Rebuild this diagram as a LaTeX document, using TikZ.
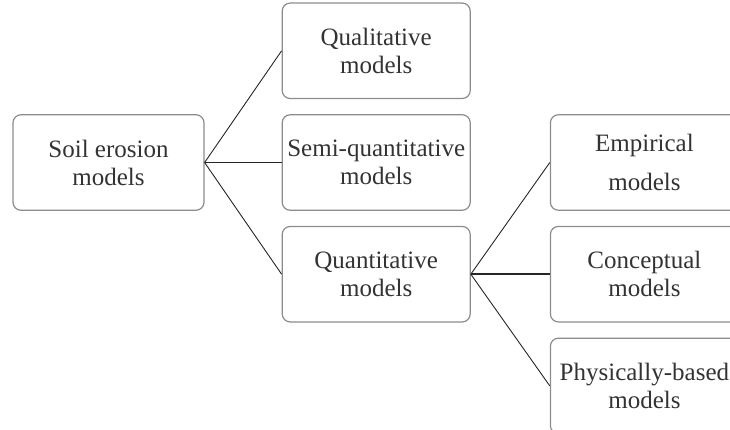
\documentclass[tikz,border=0pt]{standalone}
\usepackage{fontspec}
\setmainfont{Liberation Serif}
\usepackage{tikz}
\usetikzlibrary{positioning}
\definecolor{boxgray}{HTML}{8C8C8C}
\definecolor{linedark}{HTML}{262626}
\definecolor{textdark}{HTML}{333333}

\tikzset{
  modelbox/.style={draw=boxgray,line width=1.2pt,rounded corners=8pt,
    minimum width=188pt,minimum height=95.5pt,inner sep=0pt,align=center,
    text=textdark,font=\fontsize{25}{28}\selectfont},
  link/.style={draw=linedark,line width=0.9pt}
}

\begin{document}
\begin{tikzpicture}[x=1pt,y=1pt]
        \useasboundingbox (0,0) rectangle (730,-430);
        % left column
        \node[modelbox,minimum width=191pt] (soil) at (108.5,-162.5) {Soil erosion\\models};
        % middle column
        \node[modelbox,right=77pt of soil] (semi) {Semi-quantitative\\models};
        \node[modelbox,above=15pt of semi] (qual) {Qualitative\\models};
        \node[modelbox,below=15pt of semi] (quant) {Quantitative\\models};
        % right column
        \node[modelbox,right=79pt of semi] (emp) {Empirical\\[11pt]models};
        \node[modelbox,right=79pt of quant] (conc) {Conceptual\\models};
        \node[modelbox,below=15pt of conc] (phys) {Physically-based\\models};
        \draw[link] (soil.east) -- (qual.west);
        \draw[link] (soil.east) -- (semi.west);
        \draw[link] (soil.east) -- (quant.west);
        \draw[link] (quant.east) -- (emp.west);
        \draw[link,line width=2pt] (quant.east) -- (conc.west);
        \draw[link] (quant.east) -- (phys.west);
      \end{tikzpicture}
\end{document}
